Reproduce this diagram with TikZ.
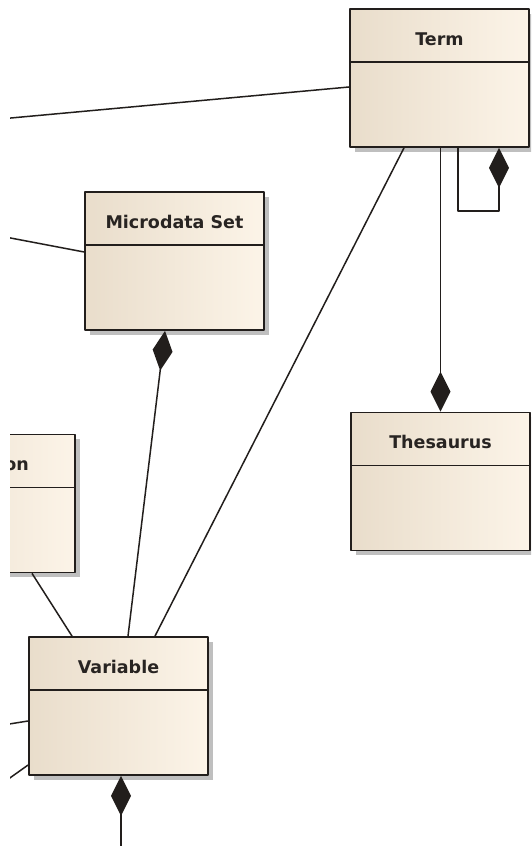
\documentclass[tikz,border=0pt]{standalone}
\usepackage{fontspec}
\setmainfont{DejaVu Sans}
\usepackage{tikz}
\usetikzlibrary{arrows.meta}
\usetikzlibrary{shadows, calc}

\definecolor{clsleft}{RGB}{233,221,203}
\definecolor{clsright}{RGB}{252,244,232}
\definecolor{clsline}{RGB}{34,30,28}
\definecolor{clstext}{RGB}{40,36,34}

\begin{document}
\begin{tikzpicture}[x=1pt,y=1pt,line join=bevel,
  umlbox/.style={rectangle,draw=clsline,line width=1.8pt,inner sep=0pt,
    minimum width=179pt,minimum height=138pt,
    left color=clsleft,right color=clsright,
    drop shadow={shadow xshift=5pt,shadow yshift=-5pt,fill=black!25,opacity=1}},
  umltitle/.style={anchor=base,inner sep=0pt,text=clstext,
    font=\fontsize{17.5}{20}\selectfont\bfseries},
  umlsplit/.style={draw=clsline,line width=1.6pt},
  assoc/.style={draw=clsline,line width=1.5pt},
  comp/.style={assoc,-{Diamond[length=40pt,width=20pt]}},
]
\useasboundingbox (0,0) rectangle (531,846);
\clip (10,0) rectangle (531,846);
%%
\node (node_term) at (439.5,768) [umlbox] {};
\node (node_mset) at (174.5,585) [umlbox] {};
\node (node_cls) at (-14.5,342.5) [umlbox] {};
\node (node_var) at (118.5,140) [umlbox] {};
\node (node_thes) at (440.5,364.5) [umlbox] {};
\foreach \b in {node_term,node_mset,node_cls,node_var,node_thes}
  \draw [umlsplit] ($(\b.north west)+(0,-54)$) -- ($(\b.north east)+(0,-54)$);
\node (node_term_name) at ($(node_term.north)+(0,-37)$) [umltitle] {Term};
\node (node_mset_name) at ($(node_mset.north)+(0,-37)$) [umltitle] {Microdata Set};
\node (node_cls_name) at (29,375) [umltitle,anchor=base east] {on};
\node (node_var_name) at ($(node_var.north)+(0,-37)$) [umltitle] {Variable};
\node (node_thes_name) at ($(node_thes.north)+(0,-37)$) [umltitle] {Thesaurus};
%
\coordinate (end_term) at (0,727);
\coordinate (end_mset) at (0,610);
\coordinate (end_var_a) at (0,120.5);
\coordinate (end_var_b) at (0,61);
\coordinate (end_var_c) at (121,-5);
\draw [assoc] ([yshift=-9pt]node_term.west) -- (end_term);
\draw [assoc] ([xshift=-35.5pt]node_term.south) -- ([xshift=36.5pt]node_var.north);
\draw [comp] (node_term.south -| node_thes.north) -- (node_thes.north);
\draw [comp] ([xshift=18.5pt]node_term.south) -- ++(0,-63) -| ([xshift=59.5pt]node_term.south);
\draw [comp] ([xshift=9.5pt]node_var.north) -- ([xshift=-9.5pt]node_mset.south);
\draw [assoc] ([yshift=9pt]node_mset.west) -- (end_mset);
\draw [assoc] ([xshift=46.5pt]node_cls.south) -- ([xshift=-46.5pt]node_var.north);
\draw [assoc] ([yshift=-15pt]node_var.west) -- (end_var_a);
\draw [assoc] ([yshift=-59pt]node_var.west) -- (end_var_b);
\draw [comp] (end_var_c) -- ([xshift=2.5pt]node_var.south);
%
\end{tikzpicture}
\end{document}
